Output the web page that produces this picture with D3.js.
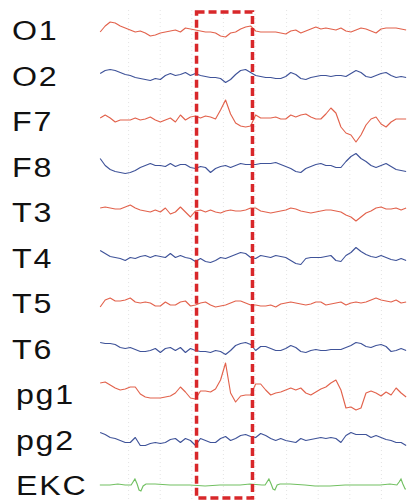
<!DOCTYPE html>
<html lang="en">
<head>
    <meta charset="UTF-8">
    <script src="https://d3js.org/d3.v7.min.js"></script>
    <title>EEG</title>
    <style>
        body { margin: 0; background: #fff; }
        .label { font-family: "Liberation Sans", Arial, sans-serif; font-size: 28px; fill: #111; }
    </style>
</head>
<body>
    <div id="viz"></div>
    <script>
        // channel names, top to bottom
        const channels = ["O1", "O2", "F7", "F8", "T3", "T4", "T5", "T6", "pg1", "pg2", "EKC"]

        // sampling of the EEG traces (seconds)
        const sampleRate = 6.3
        const startTime = 0.1

        // EEG amplitudes (arbitrary units, up is positive)
        const o1 = [-2,4,8,7,4,2,0,-2,-1,-3, -6,-5,-3,-2,-1,0,-2,2,1,0, -1,-2,-2,-3,-6,-7,-3,-2,1,3, 4,-1,-2,-2,-2,-2,-3,-4,-1,0, -3,-1,1,3,1,2,1,0,2,-1, -2,0,2,1,-1,-3,1,2,2,2, 1,0]
        const o2 = [2,5,6,5,3,1,0,-2,-3,-4, -5,-3,-4,0,2,0,1,3,0,2, 0,-1,-2,-2,-3,-7,-4,1,5,6, 3,0,-1,-2,-2,-3,-3,-1,3,1, -3,-4,-2,-1,0,0,-1,0,0,-1, 2,5,3,-1,-2,0,2,3,0,-2, -1,-2]
        const f7 = [3,6,3,-1,1,1,1,3,1,2, 4,1,-1,1,3,-1,6,1,4,5, 3,5,4,2,11,21,7,-2,-5,-6, -5,6,3,3,3,4,2,2,6,4, 6,7,4,2,2,7,13,8,-6,-12, -14,-21,-14,-4,2,4,-3,-6,-1,2, 2,2]
        const f8 = [8,1,-3,-5,-6,-7,-6,-4,-1,1, 3,1,1,0,3,0,2,2,-1,-2, 0,-1,-6,-2,0,1,-1,1,3,2, 2,2,3,3,3,4,2,0,-2,-5, -6,-2,0,2,3,1,1,-1,-1,5, 10,13,8,5,1,-1,1,3,0,-3, -4,-5]
        const t3 = [4,5,4,3,3,5,7,4,2,1, 0,2,0,4,-2,0,5,0,-5,1, 2,0,2,0,-1,1,2,1,1,2, 4,4,1,0,-1,0,1,2,4,3, 1,0,-1,0,1,2,2,1,0,-3, -5,-9,-5,-1,1,4,5,3,3,4, 2,4]
        const t4 = [7,4,1,0,-1,-3,0,-1,1,2, 0,2,1,0,4,0,2,0,-1,-4, -1,-4,-5,-3,0,-1,1,3,5,4, 0,-1,2,1,0,2,1,0,-3,-6, -7,-1,0,0,0,1,2,-3,-4,2, 5,10,6,3,1,0,2,0,-2,-3, -1,-3]
        const t5 = [-4,3,5,2,2,3,5,1,0,1, 0,-3,-3,1,-2,-2,1,2,-3,-2, 0,1,-2,-4,-3,-2,0,2,2,0, -2,-2,-3,-3,-2,-4,-1,0,1,0, -1,-2,-1,1,1,-2,-1,0,1,-2, 0,1,0,1,3,5,3,2,1,3, 0,1]
        const t6 = [6,5,5,4,1,0,1,-1,-3,-3, -2,0,-4,0,1,-2,1,-4,0,-2, -3,-3,-4,-2,-3,-6,-2,3,5,6, 4,-2,2,2,0,-2,-2,0,3,1, -3,-4,-2,-1,-2,-2,-1,-1,-1,1, 3,6,5,2,1,3,4,2,-3,-2, 0,-2]
        const pg1 = [11,12,9,6,4,5,7,7,0,-3, -4,-4,-4,-3,-2,1,7,2,-4,-5, 3,3,2,5,14,31,1,-8,-2,-1, -1,10,10,4,-1,1,2,4,6,4, 6,1,-1,2,5,7,11,14,4,-14, -13,-16,-14,1,3,1,-2,2,-1,6, 1,-3]
        const pg2 = [7,5,2,1,-1,-3,-3,2,-6,-6, -4,-3,-4,-3,0,1,-3,1,-1,-6, 1,-1,-3,-3,1,3,-1,1,4,5, 3,2,6,4,1,-1,1,-1,-2,-3, 1,-1,0,1,2,1,2,1,-3,4, 7,5,5,5,2,4,2,0,-1,-3, -3,-6]

        // ECG, sampled unevenly around the beats
        const ekcTime = [0.09,0.41,0.66,0.89,1.08,1.14,1.20,1.27,1.33,1.39,1.46,1.55,1.84,2.31,2.94,3.42,3.89,4.53,4.84,5.22,5.32,5.38,5.44,5.51,5.57,5.63,5.70,5.79,6.11,6.58,6.90,7.37,7.85,8.32,8.96,9.27,9.49,9.56,9.62,9.68,9.75,9.78]
        const ekcValue = [0,0,1,0,0,3,6,1,-5,-6,-1,1,1,0,0,-1,0,0,1,0,0,3,6,1,-4,-5,0,1,1,0,-1,-1,0,0,0,1,0,3,6,1,-4,-4]

        // marked window (seconds)
        const highlightWindow = [3.15, 4.92]

        const eegSeries = [o1, o2, f7, f8, t3, t4, t5, t6, pg1, pg2]

        const width = 408
        const height = 504
        const margin = {top: 30, bottom: 19}

        const svg = d3.select("#viz")
            .append("svg")
            .attr("width", width)
            .attr("height", height)

        const xScale = d3.scaleLinear()
            .domain([0, 10])
            .range([97, 413])

        const rowScale = d3.scalePoint()
            .domain(channels)
            .range([margin.top, height - margin.bottom])

        const ampScale = d3.scaleLinear()
            .domain([0, 1])
            .range([0, -1])

        // faint dotted time grid
        svg.append("g")
            .selectAll("line")
            .data(d3.range(1, 10))
            .enter()
            .append("line")
            .attr("x1", d => xScale(d))
            .attr("x2", d => xScale(d))
            .attr("y1", 10)
            .attr("y2", 500)
            .attr("stroke", "#e4e4e4")
            .attr("stroke-width", 1)
            .attr("stroke-dasharray", "1,3")

        // channel labels
        const labelX = name => (name === "pg1" || name === "pg2" || name === "EKC") ? 16 : 12
        svg.selectAll(".label")
            .data(channels)
            .enter()
            .append("text")
            .attr("class", "label")
            .attr("transform", d => `translate(${labelX(d)},${rowScale(d) + 10}) scale(1.15,1)`)
            .style("letter-spacing", "1.5px")
            .text(d => d)

        // eeg traces
        const lineGen = d3.line()
            .x(d => xScale(d.t))
            .y(d => d.base + ampScale(d.v))

        eegSeries.forEach((values, k) => {
            const base = rowScale(channels[k])
            const pts = values.map((v, i) => ({t: startTime + i / sampleRate, v: v, base: base}))
            svg.append("path")
                .attr("d", lineGen(pts))
                .attr("fill", "none")
                .attr("stroke", k % 2 === 0 ? "#e2624c" : "#3f5399")
                .attr("stroke-width", 1.15)
                .attr("stroke-linejoin", "round")
        })

        // ekc trace
        const ekcBase = rowScale("EKC")
        const ekcPts = ekcTime.map((t, i) => ({t: t, v: ekcValue[i], base: ekcBase}))
        svg.append("path")
            .attr("d", lineGen(ekcPts))
            .attr("fill", "none")
            .attr("stroke", "#72c062")
            .attr("stroke-width", 1.15)

        // dashed box over the marked window
        svg.append("rect")
            .attr("x", xScale(highlightWindow[0]))
            .attr("y", 12)
            .attr("width", xScale(highlightWindow[1]) - xScale(highlightWindow[0]))
            .attr("height", 486)
            .attr("fill", "none")
            .attr("stroke", "#d8272a")
            .attr("stroke-width", 3.5)
            .attr("stroke-dasharray", "8,4")
    </script>
</body>
</html>
